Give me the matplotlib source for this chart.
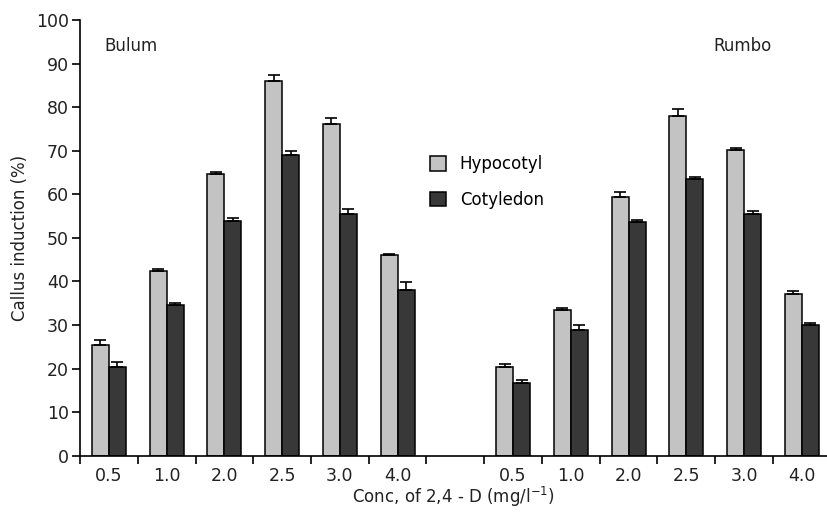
import numpy as np
import matplotlib.pyplot as plt

conc = ["0.5", "1.0", "2.0", "2.5", "3.0", "4.0"]

bulum_hyp = [25.5, 42.3, 64.7, 86.0, 76.2, 46.0]
bulum_hyp_err = [1.0, 0.6, 0.4, 1.3, 1.3, 0.4]
bulum_cot = [20.4, 34.5, 53.9, 69.0, 55.5, 38.1]
bulum_cot_err = [1.0, 0.5, 0.7, 0.9, 1.2, 1.8]

rumbo_hyp = [20.3, 33.4, 59.4, 78.0, 70.1, 37.0]
rumbo_hyp_err = [0.8, 0.4, 1.2, 1.5, 0.6, 0.8]
rumbo_cot = [16.6, 28.8, 53.6, 63.6, 55.5, 30.1]
rumbo_cot_err = [0.8, 1.3, 0.5, 0.4, 0.7, 0.4]

hyp_color = "#c3c3c3"
cot_color = "#383838"

fig = plt.figure(figsize=(8.27, 5.14), dpi=100)
ax = fig.add_axes([80 / 827, 1 - 455.7 / 514, 750.75 / 827, 435.7 / 514])

slots = np.r_[np.arange(6), np.arange(7, 13)] + 0.5
hyp = bulum_hyp + rumbo_hyp
hyp_err = bulum_hyp_err + rumbo_hyp_err
cot = bulum_cot + rumbo_cot
cot_err = bulum_cot_err + rumbo_cot_err

w = 0.295
ekw = dict(elinewidth=1.2, capthick=1.2, ecolor="black")
ax.bar(slots - w / 2, hyp, w, color=hyp_color, edgecolor="black", linewidth=1.1,
       yerr=[np.zeros(len(hyp)), hyp_err], capsize=4.5, error_kw=ekw, label="Hypocotyl")
ax.bar(slots + w / 2, cot, w, color=cot_color, edgecolor="black", linewidth=1.1,
       yerr=[np.zeros(len(cot)), cot_err], capsize=4.5, error_kw=ekw, label="Cotyledon")

ax.set_xlim(0, 13)
ax.set_ylim(0, 100)
ax.set_yticks(np.arange(0, 101, 10))
ax.set_xticks(np.arange(0, 14), minor=False)
ax.set_xticklabels([])
ax.set_xticks(slots, minor=True)
ax.set_xticklabels(conc + conc, minor=True)
ax.tick_params(axis="x", which="minor", length=0, pad=8, labelsize=12.5, colors="#222222")
ax.tick_params(axis="x", which="major", length=6, width=1.2, direction="out")
ax.tick_params(axis="y", length=6, width=1.2, labelsize=12.5, pad=2, labelcolor="#222222")

for s in ["top", "right"]:
    ax.spines[s].set_visible(False)
for s in ["left", "bottom"]:
    ax.spines[s].set_linewidth(1.2)

ax.set_ylabel("Callus induction (%)", fontsize=12, labelpad=5, color="#222222")
ax.set_xlabel("Conc, of 2,4 - D (mg/l$^{-1}$)", fontsize=12, color="#222222")
ax.xaxis.set_label_coords(373 / 750.75, -0.067)

ax.text(0.43, 94, "Bulum", fontsize=12, va="center", color="#222222")
ax.text(10.96, 94, "Rumbo", fontsize=12, va="center", color="#222222")

ax.legend(loc="upper left", bbox_to_anchor=(343 / 750.75, 0.705), frameon=False,
          fontsize=12, handlelength=1.0, handleheight=1.0, handletextpad=0.8,
          labelspacing=1.05, borderaxespad=0)

fig.savefig("out.png", dpi=100)
